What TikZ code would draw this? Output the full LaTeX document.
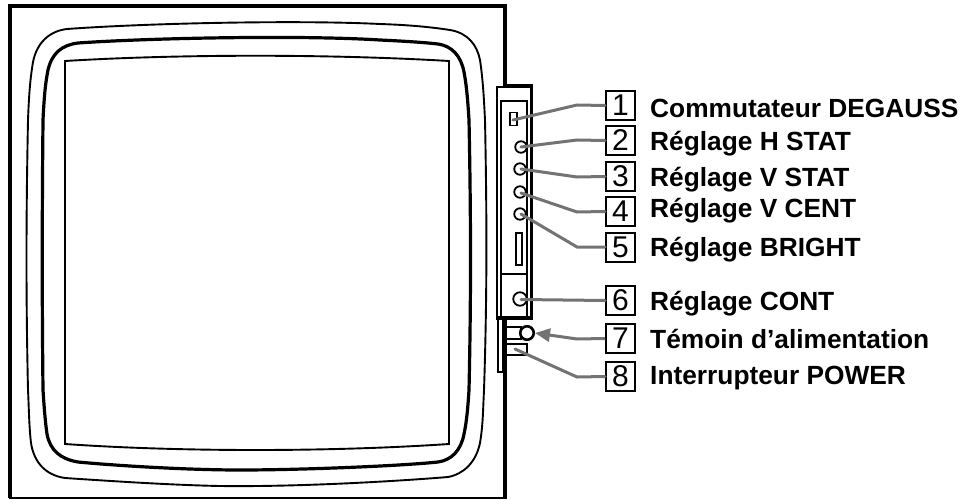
\documentclass[tikz,border=0pt]{standalone}
\usepackage{fontspec}
\setmainfont{Liberation Sans}
\usetikzlibrary{arrows.meta}
\definecolor{lead}{gray}{0.45}
\tikzset{
  x=1pt,y=-1pt,
  numbox/.style={draw=black,line width=2pt,minimum width=29pt,minimum height=29pt,inner sep=0pt,font=\fontsize{30}{30}\selectfont},
  lbl/.style={anchor=base west,inner sep=0pt,font=\fontsize{26.3}{26.3}\selectfont\bfseries},
  leadline/.style={draw=lead,line width=3pt,line cap=round},
  ctrl/.style={circle,draw=black,line width=1.8pt,fill=white,minimum size=11.5pt,inner sep=0pt},
  bez/.style={line width=1.9pt,line join=round},
  bezthick/.style={line width=3.2pt,line join=round},
}
\begin{document}
\begin{tikzpicture}
\useasboundingbox (0,0) rectangle (960,500);
% cabinet
\draw[line width=3.3pt] (505,86) -- (505,6) -- (9,6);
\draw[line width=4.4pt] (10,4.5) -- (10,498);
\draw[line width=1.8pt] (9,498) -- (505,498);
\draw[line width=3.4pt] (505,317) -- (505,499);
% bezel outer
\draw[bez] (28,120) .. controls (29,95) and (30,80) .. (33,62)
  .. controls (37,42) and (50,31) .. (67,29)
  .. controls (150,23) and (300,20) .. (380,24)
  .. controls (410,25) and (430,27) .. (450,30)
  .. controls (468,33) and (477,45) .. (480,60)
  .. controls (483,80) and (484,100) .. (485,120)
  .. controls (487,220) and (487,300) .. (484,390)
  .. controls (483,410) and (483,425) .. (480,443)
  .. controls (476,462) and (464,474) .. (448,477)
  .. controls (400,481) and (300,487) .. (220,486)
  .. controls (170,485) and (110,481) .. (65,478)
  .. controls (45,475) and (34,462) .. (31,443)
  .. controls (29,425) and (29,410) .. (28,390)
  .. controls (26,300) and (26,220) .. (28,120) -- cycle;
% bezel inner thick
\draw[bezthick] (43,120) .. controls (44,100) and (45,85) .. (48,70)
  .. controls (52,53) and (62,45) .. (78,43)
  .. controls (150,38) and (300,35) .. (380,40)
  .. controls (400,41) and (420,42) .. (438,44)
  .. controls (452,46) and (461,56) .. (464,72)
  .. controls (467,88) and (468,105) .. (469,120)
  .. controls (471,220) and (471,300) .. (469,390)
  .. controls (468,405) and (467,420) .. (464,434)
  .. controls (461,450) and (452,460) .. (438,462)
  .. controls (400,466) and (300,470) .. (240,470)
  .. controls (190,470) and (120,466) .. (78,462)
  .. controls (60,459) and (50,450) .. (47,434)
  .. controls (45,420) and (44,405) .. (43,390)
  .. controls (42,300) and (42,220) .. (43,120) -- cycle;
% screen
\draw[line width=1.9pt,line join=miter] (65,61) .. controls (180,54) and (330,54) .. (449,61)
  -- (449,444) .. controls (330,452) and (180,452) .. (65,444) -- cycle;
% side panel
\draw[line width=1.1pt] (497,317) -- (497,87) -- (530,87);
\draw[line width=3.3pt] (504,85.5) -- (531.5,85.5) -- (531.5,318) -- (496,318);
\draw[line width=1.4pt] (501,317) -- (501,101) -- (527,101) -- (527,317);
\draw[line width=1.1pt] (501,274) -- (527,274);
% controls
\node[draw=black,line width=1.4pt,minimum width=7pt,minimum height=13pt,inner sep=0pt] (sw) at (513.5,119) {};
\node[ctrl] (k2) at (521,147) {};
\node[ctrl] (k3) at (520,169) {};
\node[ctrl] (k4) at (520,192) {};
\node[ctrl] (k5) at (520,214) {};
\node[draw=black,line width=1.4pt,minimum width=6pt,minimum height=32pt,inner sep=0pt] (slot) at (519,249) {};
\node[ctrl,minimum size=13.5pt] (k6) at (520,299) {};
% stand and power
\node[draw=black,line width=1.3pt,minimum width=5pt,minimum height=54pt,inner sep=0pt] (stand) at (500.5,345) {};
\draw[line width=1.6pt] (505,339) -- (521,339) (505,327) -- (521,327);
\draw[line width=2.8pt] (521,326) -- (521,340);
\node[ctrl,minimum size=13.5pt,line width=2.6pt] (led) at (527,333) {};
\node[draw=black,line width=1.3pt,minimum width=22pt,minimum height=11pt,inner sep=0pt] (pw) at (516,349.5) {};
\draw[line width=2.2pt] (505,344) -- (527,344);
% number boxes
\node[numbox] (n1) at (620.5,105.5) {1};
\node[numbox] (n2) at (620.5,140.5) {2};
\node[numbox] (n3) at (620.5,176.5) {3};
\node[numbox] (n4) at (620.5,211.5) {4};
\node[numbox] (n5) at (620.5,247) {5};
\node[numbox] (n6) at (620.5,300.5) {6};
\node[numbox] (n7) at (620.5,338.5) {7};
\node[numbox] (n8) at (620.5,376.5) {8};
% leader ends
\coordinate (e1) at (513,120);
\coordinate (e2) at (521,147);
\coordinate (e3) at (521,169);
\coordinate (e4) at (521,193);
\coordinate (e5) at (521,214);
\coordinate (e6) at (521,299.5);
\coordinate (e7) at (535,333);
\coordinate (e8) at (515,349);
\path[leadline] (n1.west) -- (577,105) -- (e1);
\path[leadline] (n2.west) -- (577,140) -- (e2);
\path[leadline] (n3.west) -- (577,177) -- (e3);
\path[leadline] (n4.west) -- (577,212) -- (e4);
\path[leadline] (n5.west) -- (577,247) -- (e5);
\path[leadline] (n6.west) -- (e6);
\path[leadline,line cap=butt,-{Triangle[length=15pt,width=13pt]}] (n7.west) -- (577,339) -- (e7);
\path[leadline] (n8.west) -- (577,377) -- (e8);
% labels
\node[lbl] (t1) at (650,117.5) {Commutateur DEGAUSS};
\node[lbl] (t2) at (650,150) {Réglage H STAT};
\node[lbl] (t3) at (650,186) {Réglage V STAT};
\node[lbl] (t4) at (650,217.5) {Réglage V CENT};
\node[lbl] (t5) at (650,256) {Réglage BRIGHT};
\node[lbl] (t6) at (650,310) {Réglage CONT};
\node[lbl] (t7) at (650,348) {Témoin d’alimentation};
\node[lbl] (t8) at (650,384) {Interrupteur POWER};
\end{tikzpicture}
\end{document}
